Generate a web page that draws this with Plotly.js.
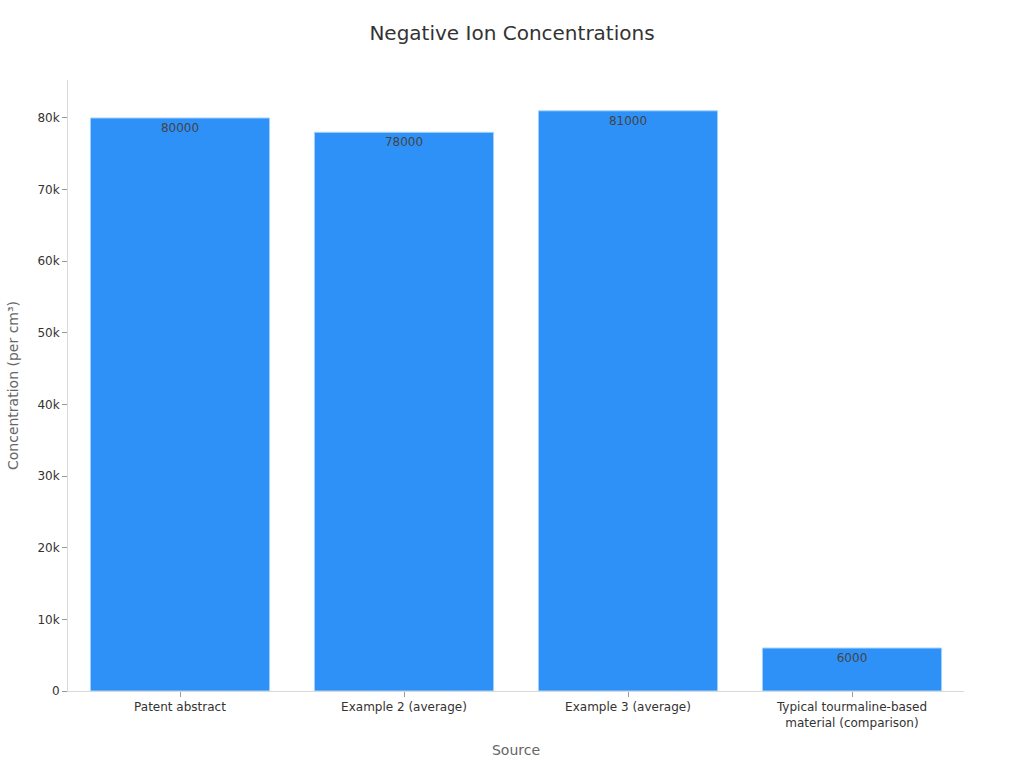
<!DOCTYPE html>
<html>
<head>
<meta charset="utf-8">
<script src="https://cdn.plot.ly/plotly-3.0.1.min.js"></script>
<style>
  html, body { margin: 0; padding: 0; background: #fff; }
  #chart { width: 1024px; height: 768px; }
</style>
</head>
<body>
<div id="chart"></div>
<script>
var sources = ['Patent abstract', 'Example 2 (average)', 'Example 3 (average)',
  'Typical tourmaline-based<br>material (comparison)'];
var concentrations = [80000, 78000, 81000, 6000];

var trace = {
  x: sources,
  y: concentrations,
  type: 'bar',
  text: concentrations.map(String),
  textposition: 'inside',
  insidetextanchor: 'end',
  textfont: { color: '#444', size: 12 },
  marker: { color: '#2e91f8', line: { color: '#a9d3fb', width: 1 } },
  hoverinfo: 'x+y'
};

var layout = {
  width: 1024,
  height: 768,
  font: { family: 'DejaVu Sans, sans-serif', color: '#333' },
  title: { text: 'Negative Ion Concentrations', font: { size: 20, color: '#333' },
    x: 0.5, y: 0.957, yanchor: 'middle' },
  margin: { l: 68, r: 60, t: 80, b: 77 },
  bargap: 0.2,
  paper_bgcolor: '#fff',
  plot_bgcolor: '#fff',
  xaxis: {
    title: { text: 'Source', font: { size: 14, color: '#666' }, standoff: 16 },
    tickfont: { size: 12, color: '#333' },
    showline: true, linecolor: '#d9d9d9', linewidth: 1,
    ticks: 'outside', tickcolor: '#999', ticklen: 5
  },
  yaxis: {
    title: { text: 'Concentration (per cm³)', font: { size: 14, color: '#666' }, standoff: 15 },
    tickfont: { size: 12, color: '#333' },
    range: [0, 85300],
    dtick: 10000,
    tickformat: '~s',
    showgrid: false, zeroline: false,
    showline: true, linecolor: '#d9d9d9', linewidth: 1,
    ticks: 'outside', tickcolor: '#999', ticklen: 5
  },
  showlegend: false
};

Plotly.newPlot('chart', [trace], layout, { displayModeBar: false });
</script>
</body>
</html>
